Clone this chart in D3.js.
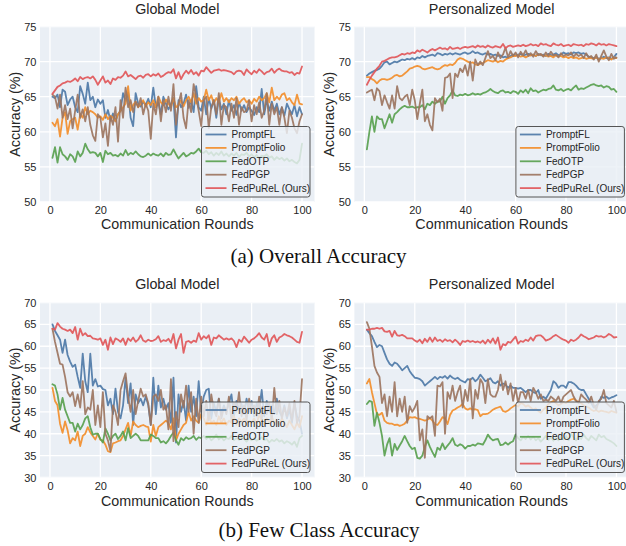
<!DOCTYPE html>
<html>
<head>
<meta charset="utf-8">
<script src="https://cdn.jsdelivr.net/npm/d3@7"></script>
<style>
  html, body { margin: 0; padding: 0; background: #ffffff; }
  svg { display: block; }
</style>
</head>
<body>
<svg id="chart" width="626" height="546"></svg>
<script>
// ---------------- DATA ----------------
const rounds = Array.from({length: 100}, (_, i) => i + 1);
const seriesNames = ["PromptFL", "PromptFolio", "FedOTP", "FedPGP", "FedPuReL (Ours)"];
const seriesColors = ["#4e79a7", "#f28e2b", "#59a14f", "#9c755f", "#e15759"];
const xTicks = [0, 20, 40, 60, 80, 100];
const yTicksOverall = [50, 55, 60, 65, 70, 75];
const yTicksFew = [30, 35, 40, 45, 50, 55, 60, 65, 70];
const panelTitles = ["Global Model", "Personalized Model"];
const captions = ["(a) Overall Accuracy", "(b) Few Class Accuracy"];

// (a) Overall accuracy - Global model
const ovGlobalPromptFL = [65.0,64.8,65.3,63.5,66.0,65.7,63.8,64.6,65.0,63.5, 62.8,66.5,65.4,64.0,67.0,64.5,65.0,63.5,64.6,64.0,
 64.5,62.0,63.1,61.6,62.6,61.5,62.5,63.0,65.5,64.4, 65.6,62.0,60.8,65.5,64.0,63.6,64.3,63.8,64.7,63.5,
 66.3,63.5,64.2,62.5,65.0,64.0,63.2,63.9,64.8,59.2, 64.5,63.5,64.0,65.3,63.4,64.5,62.8,66.5,63.5,63.0,
 65.0,62.5,64.8,63.3,64.5,62.0,64.8,63.2,64.0,62.5, 64.5,63.0,63.8,62.4,64.2,63.0,63.8,62.8,63.5,63.0,
 62.4,63.5,62.8,66.1,62.5,64.5,63.0,64.3,63.0,64.0, 62.5,63.5,62.3,64.0,63.2,62.5,63.8,62.2,63.5,62.5];
const ovGlobalPromptFolio = [61.3,60.8,61.8,59.3,62.0,62.8,59.7,61.5,61.8,62.0, 60.3,62.5,62.0,63.5,62.5,63.0,62.8,62.5,62.0,62.2,
 61.7,62.5,61.8,62.3,62.0,61.5,62.5,63.0,63.5,64.0, 66.5,63.0,63.8,64.3,63.5,64.0,64.5,63.6,64.2,63.8,
 64.5,63.5,65.0,64.2,63.8,64.6,64.0,63.5,64.8,63.5, 63.8,64.5,63.6,64.5,65.0,64.2,65.5,64.0,64.8,64.3,
 64.5,66.0,64.5,65.2,64.0,64.8,64.2,65.5,64.3,64.8, 64.2,64.8,64.5,65.0,64.0,64.5,64.8,64.2,64.5,64.0,
 64.7,64.3,65.0,64.5,64.8,65.5,64.2,66.3,64.5,65.0, 64.6,65.3,65.5,64.5,64.8,64.2,63.8,65.3,64.0,63.9];
const ovGlobalFedOTP = [56.3,57.8,55.6,57.8,56.8,56.5,56.0,56.8,56.5,55.7, 57.2,56.5,57.0,58.3,57.5,57.0,57.1,57.0,56.5,57.0,
 55.7,57.3,56.8,57.0,56.6,56.7,56.5,56.9,56.6,57.4, 56.7,57.0,56.8,57.2,56.8,56.5,56.4,56.6,56.9,56.6,
 56.9,56.7,56.6,56.9,56.5,57.0,56.7,56.8,57.5,56.8, 56.2,56.6,57.0,56.5,56.7,57.0,56.9,57.2,57.6,57.1,
 57.0,57.3,56.8,57.1,56.6,57.0,56.7,57.2,56.6,56.9, 56.5,56.9,56.6,57.0,56.4,56.8,56.7,57.0,56.5,56.8,
 56.4,56.7,56.2,56.6,56.5,56.8,56.3,56.5,56.0,56.4, 56.1,56.3,55.9,56.2,55.8,56.0,55.7,55.5,56.0,58.3];
const ovGlobalFedPGP = [65.3,65.0,63.3,65.3,62.0,63.8,61.8,63.3,60.5,63.0, 65.3,62.0,63.2,61.5,63.5,61.0,59.5,58.7,62.5,62.0,
 59.2,61.2,58.0,62.2,61.0,63.5,58.6,64.5,62.0,66.3, 63.5,64.5,62.8,64.3,63.5,64.8,62.5,64.0,63.0,59.0,
 64.0,62.5,65.0,61.5,64.5,62.8,65.0,63.0,66.8,61.0, 64.0,65.5,62.0,60.5,64.5,62.8,66.8,65.0,63.0,60.8,
 64.5,65.0,60.5,63.5,64.5,62.5,65.5,61.0,63.8,63.5, 61.5,64.0,62.0,64.8,61.0,63.5,62.8,63.0,64.5,61.5,
 63.8,62.5,64.2,62.0,63.0,65.5,61.0,64.0,62.5,63.5, 61.0,63.5,62.0,59.8,63.0,62.0,60.5,59.8,61.5,62.5];
const ovGlobalFedPuReL = [65.4,65.9,66.4,66.6,66.9,67.0,67.2,67.1,67.3,67.6, 67.2,67.8,67.5,67.7,67.8,67.6,67.9,67.4,66.7,67.3,
 67.9,67.0,67.3,66.8,67.6,67.4,67.8,67.7,68.0,68.6, 67.9,68.1,67.8,67.5,67.9,68.0,67.7,68.1,68.2,67.9,
 68.2,68.0,68.3,67.8,68.0,68.3,68.5,68.4,68.9,67.6, 68.5,67.5,68.2,68.7,68.3,68.8,68.2,68.5,68.0,68.7,
 68.6,69.2,68.8,68.4,68.7,68.8,68.9,68.7,68.8,68.7, 68.6,68.5,68.2,68.6,68.7,68.6,68.1,68.9,68.5,68.2,
 68.7,68.4,68.9,68.6,68.2,68.5,68.6,69.0,68.4,68.8, 69.0,68.7,68.6,68.6,68.4,68.5,68.1,68.4,68.3,69.3];

// (a) Overall accuracy - Personalized model
const ovPersPromptFL = [68.0,68.3,68.5,68.7,68.8,69.0,69.4,69.9,70.0,69.6, 69.8,70.0,69.9,70.1,70.3,70.2,70.4,70.3,70.5,70.3,
 70.6,70.5,70.8,70.6,70.8,70.9,71.0,70.8,71.2,71.1, 70.9,71.1,71.0,71.2,71.0,71.2,71.1,71.0,71.2,71.3,
 71.1,71.2,71.5,71.2,71.3,71.1,71.0,71.2,71.0,71.1, 70.9,71.0,70.8,70.9,70.6,70.7,70.5,70.8,71.0,70.9,
 71.0,71.1,70.8,71.0,71.1,70.9,71.0,70.8,71.1,70.9, 71.0,70.8,71.1,70.9,71.0,71.2,70.9,71.0,71.3,71.1,
 71.2,71.0,71.3,71.2,71.3,71.1,71.2,71.0,70.7,70.6, 70.5,70.6,70.4,70.5,70.7,70.5,70.6,70.4,70.6,71.1];
const ovPersPromptFolio = [67.8,67.8,67.5,67.3,66.9,67.3,67.5,67.5,67.4,67.5, 67.7,68.0,68.1,67.9,68.0,68.3,68.6,69.0,69.1,69.3,
 69.4,69.3,69.0,68.9,69.0,69.1,69.2,69.0,68.9,69.0, 69.3,69.5,69.4,69.6,69.5,69.8,70.3,70.5,70.4,70.2,
 70.0,69.8,69.9,69.6,69.5,69.7,69.8,70.0,70.2,70.1, 70.0,70.2,69.9,70.1,70.0,70.3,70.5,70.6,70.8,70.8,
 70.9,70.7,70.8,70.6,70.8,70.9,71.0,70.8,71.0,71.0, 70.8,70.9,70.7,70.8,70.6,70.9,70.7,70.8,70.6,70.7,
 70.5,70.7,70.5,70.6,70.4,70.5,70.6,70.4,70.5,70.5, 70.4,70.6,70.3,70.5,70.4,70.6,70.5,70.3,70.6,70.5];
const ovPersFedOTP = [57.5,60.0,62.2,60.0,62.2,61.8,61.8,60.5,61.5,62.5, 61.3,62.5,62.8,63.2,63.5,63.7,63.5,63.5,63.6,63.4,
 63.5,63.5,63.8,63.2,64.0,63.8,64.3,64.0,64.3,64.3, 65.0,64.0,64.8,65.2,65.9,65.2,65.1,65.3,65.2,65.4,
 65.2,65.3,65.5,65.3,65.4,65.3,65.5,65.6,65.8,66.1, 65.8,65.6,65.5,65.8,65.9,65.6,65.7,65.5,65.8,65.7,
 65.4,65.9,65.6,66.0,65.5,66.2,65.8,65.9,65.6,65.8, 66.0,65.9,66.1,66.2,66.6,66.0,65.9,66.1,65.8,66.0,
 66.1,65.9,66.3,66.6,66.0,66.2,66.1,66.3,66.5,66.7, 66.8,66.6,66.5,66.6,66.3,66.5,66.4,66.0,66.1,65.7];
const ovPersFedPGP = [65.6,65.8,66.0,64.5,66.2,65.8,63.8,65.2,64.2,63.3, 65.2,63.3,66.5,64.8,64.5,65.0,65.3,63.8,66.0,64.5,
 61.8,64.0,66.0,61.5,62.5,61.0,60.2,64.8,64.2,64.7, 63.0,67.7,67.8,68.3,64.8,68.3,67.8,69.0,68.5,69.5,
 68.0,70.0,67.3,70.3,69.5,70.0,69.5,70.5,71.5,70.5, 70.8,70.2,71.3,70.5,71.0,72.0,70.6,71.5,70.8,71.3,
 70.6,71.4,70.9,71.6,70.8,71.2,70.7,71.5,70.9,71.1, 70.7,71.3,70.8,71.4,70.9,71.0,70.6,71.2,70.8,71.0,
 70.9,71.3,70.7,71.1,70.8,71.0,70.5,71.2,70.6,70.8, 70.3,71.0,70.0,70.8,71.6,70.7,70.2,71.1,70.4,70.6];
const ovPersFedPuReL = [66.7,67.4,68.0,68.5,69.0,69.4,70.0,70.1,70.3,70.5, 70.6,70.6,70.7,70.9,71.1,71.0,71.2,71.1,71.3,71.2,
 71.6,71.4,71.7,71.5,71.3,71.6,71.8,71.6,71.8,72.0, 71.8,71.9,71.7,72.1,71.8,71.9,72.0,71.8,72.0,72.1,
 72.0,72.1,72.2,72.0,72.3,72.1,72.2,72.0,72.3,72.1, 72.0,72.2,72.1,72.0,72.5,71.9,72.2,72.3,72.1,72.2,
 72.3,72.2,72.4,72.2,72.3,72.5,72.3,72.4,72.2,72.6, 72.4,72.5,72.3,72.2,72.6,72.4,72.3,72.5,72.2,72.3,
 72.4,72.2,72.5,72.4,72.3,72.4,72.2,72.5,72.4,72.6, 72.5,72.3,72.6,72.4,72.5,72.3,72.5,72.4,72.3,72.2];

// (b) Few class accuracy - Global model
const fewGlobalPromptFL = [65.0,63.5,62.5,61.5,58.5,61.5,58.0,56.5,55.3,55.8, 53.0,50.5,58.3,52.0,49.5,58.3,51.0,52.5,50.8,51.0,
 50.2,50.0,46.5,48.0,44.5,50.3,45.0,43.5,46.5,52.8, 47.0,51.5,42.0,49.0,47.0,48.0,46.5,48.5,46.5,42.0,
 52.8,44.5,51.0,46.0,48.0,45.5,47.0,42.5,52.8,38.0, 49.0,45.0,47.5,43.0,51.0,45.0,48.5,44.0,52.0,45.0,
 48.5,50.0,50.3,43.5,47.0,45.0,48.0,44.5,46.5,45.0, 47.0,49.0,44.0,47.5,45.5,46.8,44.5,48.0,45.0,47.5,
 44.0,47.0,45.5,50.0,44.0,47.5,45.0,46.5,44.5,48.0, 45.0,44.0,46.5,43.5,45.5,42.5,47.0,44.0,43.0,40.0];
const fewGlobalPromptFolio = [50.5,47.5,46.5,42.3,40.2,42.8,40.8,37.8,39.0,38.5, 40.5,37.2,39.5,40.0,41.5,40.3,39.5,38.7,40.0,38.6,
 38.5,37.5,36.0,35.8,37.8,38.0,38.3,38.5,39.5,41.0, 42.5,39.5,42.8,42.0,41.5,41.8,42.0,41.7,41.5,38.2,
 42.0,39.5,41.5,42.0,42.5,43.0,42.5,41.0,43.5,38.5, 40.0,41.0,42.0,42.5,45.0,43.0,44.0,43.0,42.5,44.5,
 43.5,42.0,44.5,42.5,43.0,42.0,44.0,42.5,43.5,42.0, 43.0,42.5,44.0,42.0,43.5,42.8,43.5,42.0,43.0,42.5,
 43.5,42.0,44.5,43.0,42.0,43.5,42.5,44.0,42.5,43.0, 42.0,43.5,42.5,41.5,43.0,42.0,41.0,42.5,41.5,44.0];
const fewGlobalFedOTP = [51.3,51.0,49.0,45.5,48.2,45.5,44.0,42.5,42.5,40.5, 42.3,41.0,42.0,43.5,44.0,41.5,39.8,40.0,40.0,38.8,
 38.0,41.2,40.0,38.5,39.5,40.0,38.8,39.5,40.5,38.5, 41.3,39.0,39.5,40.0,39.5,38.5,38.5,38.5,38.5,39.8,
 39.5,39.0,39.0,38.0,38.3,37.8,38.5,39.5,40.3,38.5, 37.5,39.0,38.5,39.2,38.8,39.0,39.5,38.6,39.2,39.0,
 39.5,38.8,39.3,38.5,39.0,39.8,38.7,39.2,38.5,39.0, 38.8,39.5,38.5,39.0,38.6,39.3,38.8,38.2,39.0,38.5,
 39.0,38.4,38.8,39.2,38.5,38.8,38.0,38.6,38.3,38.8, 38.2,38.5,37.8,38.3,38.0,37.5,38.2,37.0,39.0,39.5];
const fewGlobalFedPGP = [64.0,61.0,58.5,56.0,55.8,53.0,49.5,48.5,49.5,46.3, 49.0,46.0,52.0,44.5,46.0,45.5,50.0,42.0,46.5,41.5,
 49.5,40.0,38.5,36.0,46.5,45.0,42.0,50.0,52.0,53.8, 48.5,45.0,50.0,44.5,47.5,50.3,48.5,49.0,47.0,42.0,
 48.5,49.0,47.5,50.0,45.5,46.5,41.0,52.5,38.3,45.0, 41.5,49.0,46.0,51.0,45.0,49.5,40.0,48.0,42.5,48.5,
 44.0,47.5,43.0,49.0,45.5,44.0,48.0,43.5,46.0,44.5, 48.5,43.0,47.0,45.0,49.5,44.0,46.5,43.0,48.0,45.0,
 46.5,44.0,48.5,43.5,46.0,44.5,47.0,43.0,50.5,44.5, 47.5,43.5,46.0,44.0,47.0,43.0,47.5,42.5,44.0,52.5];
const fewGlobalFedPuReL = [64.0,63.8,65.3,64.5,64.0,63.8,63.5,63.8,63.0,64.4, 61.5,64.0,62.5,63.0,62.3,62.4,61.8,61.7,61.5,61.8,
 60.3,61.5,59.2,62.0,60.5,61.8,61.5,61.0,61.8,60.3, 61.8,61.2,62.0,61.0,61.5,62.5,61.3,61.0,61.5,61.2,
 61.3,61.6,62.3,61.0,61.4,61.2,61.7,60.8,62.8,59.5, 61.5,62.8,58.5,61.0,61.2,60.8,61.3,61.0,63.0,61.5,
 62.3,61.8,62.5,60.3,62.0,61.8,62.5,62.0,61.5,61.8, 61.5,61.8,61.2,59.8,61.5,61.0,62.2,61.5,60.8,61.5,
 61.8,62.3,63.0,62.0,61.5,62.8,60.0,61.8,62.5,61.0, 62.0,62.3,62.8,62.5,62.3,62.0,61.5,61.0,60.8,63.3];

// (b) Few class accuracy - Personalized model
const fewPersPromptFL = [63.8,63.0,62.3,61.0,59.8,60.3,60.0,58.5,57.0,56.0, 55.5,56.3,56.0,55.3,54.5,55.0,55.5,54.3,53.5,52.8,
 52.7,52.5,52.0,51.0,51.5,52.0,52.5,53.0,52.5,53.0, 52.8,53.2,52.6,53.3,52.8,52.5,52.8,52.3,52.0,51.7,
 52.5,52.3,52.8,52.0,52.5,53.5,52.8,52.0,52.3,52.7, 51.8,51.5,52.0,51.0,51.5,51.2,50.5,51.0,50.5,50.5,
 50.3,50.5,50.0,49.5,50.0,50.0,49.5,49.3,50.0,48.0, 48.5,48.0,49.0,50.0,52.0,51.5,50.5,51.0,51.0,50.5,
 51.8,51.8,51.5,51.0,50.3,50.0,50.0,49.0,48.0,47.0, 46.0,46.5,47.0,48.5,48.2,48.5,48.0,48.3,48.5,48.8];
const fewPersPromptFolio = [51.5,52.5,49.5,47.0,44.5,44.3,44.8,43.0,42.5,42.3, 42.3,42.0,42.1,41.8,42.0,42.3,43.0,43.8,43.7,43.8,
 43.5,43.4,43.2,43.0,43.2,43.6,43.0,42.2,42.0,42.8, 43.8,43.5,42.2,44.3,45.3,45.6,46.0,46.3,46.8,45.8,
 45.5,45.8,45.5,45.6,45.4,44.0,44.5,44.5,44.6,45.0, 45.5,45.8,46.0,46.2,45.2,45.0,45.3,45.8,46.2,46.6,
 46.2,47.0,46.8,46.2,46.5,46.0,45.5,45.8,45.2,44.8, 45.5,46.0,46.8,47.2,47.5,47.0,46.5,46.8,47.2,47.0,
 47.5,47.8,48.0,47.6,47.2,47.0,46.5,46.2,46.0,45.5, 45.2,45.4,45.0,45.3,45.1,45.0,44.8,45.2,45.0,44.8];
const fewPersFedOTP = [46.8,47.5,47.3,41.8,44.8,42.5,39.5,35.0,37.5,39.0, 35.0,37.7,36.3,37.3,38.3,39.5,38.3,37.2,36.5,36.8,
 34.5,34.3,35.0,37.0,38.5,37.0,35.8,34.7,36.8,36.3, 37.8,36.5,37.3,38.0,39.0,37.5,37.2,37.6,37.3,36.6,
 37.2,37.2,37.5,37.3,37.8,37.7,37.5,38.5,39.8,39.0, 38.5,38.7,38.8,37.4,37.5,38.0,37.5,38.0,38.3,39.8,
 39.0,38.5,39.2,38.8,39.5,38.7,39.3,38.5,39.0,38.2, 38.8,39.5,38.6,39.2,38.4,39.0,38.5,39.3,38.7,39.5,
 38.5,40.0,39.2,38.5,39.5,38.8,39.8,39.0,38.5,39.5, 39.0,38.5,39.8,39.2,39.5,38.8,38.5,38.2,37.8,37.2];
const fewPersFedPGP = [65.5,64.0,60.0,55.5,54.0,53.0,47.0,49.0,44.0,48.5, 45.0,51.8,44.0,48.0,45.0,48.5,42.5,46.3,45.0,46.0,
 47.5,38.5,41.0,34.5,44.0,43.5,44.0,39.5,51.0,50.8, 51.8,40.0,49.5,48.0,51.0,47.5,49.5,51.0,46.0,50.0,
 47.5,52.5,43.5,50.0,48.0,52.5,51.5,47.0,52.5,49.0, 48.5,48.5,50.0,53.5,50.0,52.0,49.0,51.5,47.5,50.5,
 47.0,49.5,49.5,48.0,50.0,47.5,50.5,49.5,48.0,49.0, 47.5,47.8,47.5,48.5,48.0,47.5,48.5,47.0,48.5,49.0,
 49.5,50.0,48.5,47.5,47.0,49.0,48.3,47.8,47.0,48.5, 46.5,45.5,47.5,48.0,50.0,47.0,46.5,46.0,47.5,45.0];
const fewPersFedPuReL = [63.8,63.8,64.0,64.0,64.2,64.0,64.2,63.4,63.3,63.5, 62.2,63.5,62.5,62.4,62.6,62.3,61.8,61.8,61.8,61.3,
 61.0,61.5,60.7,61.7,61.0,62.0,61.0,62.0,61.2,61.5, 61.0,61.6,61.2,61.4,60.9,61.5,61.0,60.3,61.2,61.0,
 61.3,61.0,61.2,60.9,61.1,60.8,61.3,60.6,61.5,60.8, 61.8,60.6,62.0,59.2,60.5,60.2,61.0,60.8,61.5,62.2,
 60.6,61.2,61.0,61.5,61.2,62.0,61.3,62.3,62.5,62.5, 62.0,61.3,61.5,61.8,62.3,62.6,62.2,61.8,61.5,61.3,
 60.8,61.5,61.2,61.5,62.0,62.7,62.3,62.0,61.6,61.8, 62.0,62.4,62.2,62.3,62.0,62.3,62.8,62.5,62.0,62.1];

// ---------------- LAYOUT ----------------
const FONT = "'Liberation Sans', Arial, 'DejaVu Sans', sans-serif";
const TEXT = "#262626";
const BG = "#eaeff5";

const panels = [
  { title: panelTitles[0], x0: 40, x1: 314.5, y0: 26.5, y1: 202, yDomain: [50, 75], yTicks: yTicksOverall,
    series: [ovGlobalPromptFL, ovGlobalPromptFolio, ovGlobalFedOTP, ovGlobalFedPGP, ovGlobalFedPuReL],
    titleY: 8.5, xTickY: 209.8, xLabelY: 224.2, yLabelX: 15 },
  { title: panelTitles[1], x0: 354.4, x1: 628.9, y0: 26.5, y1: 202, yDomain: [50, 75], yTicks: yTicksOverall,
    series: [ovPersPromptFL, ovPersPromptFolio, ovPersFedOTP, ovPersFedPGP, ovPersFedPuReL],
    titleY: 8.5, xTickY: 209.8, xLabelY: 224.2, yLabelX: 329 },
  { title: panelTitles[0], x0: 40, x1: 314.5, y0: 302.5, y1: 477.5, yDomain: [30, 70], yTicks: yTicksFew,
    series: [fewGlobalPromptFL, fewGlobalPromptFolio, fewGlobalFedOTP, fewGlobalFedPGP, fewGlobalFedPuReL],
    titleY: 283.8, xTickY: 486.6, xLabelY: 500.8, yLabelX: 15 },
  { title: panelTitles[1], x0: 354.4, x1: 628.9, y0: 302.5, y1: 477.5, yDomain: [30, 70], yTicks: yTicksFew,
    series: [fewPersPromptFL, fewPersPromptFolio, fewPersFedOTP, fewPersFedPGP, fewPersFedPuReL],
    titleY: 283.8, xTickY: 486.6, xLabelY: 500.8, yLabelX: 329 }
];

const svg = d3.select("#chart");
svg.append("rect").attr("width", 626).attr("height", 546).attr("fill", "#ffffff");

panels.forEach((p, pi) => {
  const x = d3.scaleLinear().domain([-3.95, 104.95]).range([p.x0, p.x1]);
  const y = d3.scaleLinear().domain(p.yDomain).range([p.y1, p.y0]);
  const g = svg.append("g");

  const clipId = "clip" + pi;
  svg.append("clipPath").attr("id", clipId)
    .append("rect").attr("x", p.x0).attr("y", p.y0).attr("width", p.x1 - p.x0).attr("height", p.y1 - p.y0);

  g.append("rect").attr("x", p.x0).attr("y", p.y0)
    .attr("width", p.x1 - p.x0).attr("height", p.y1 - p.y0).attr("fill", BG);

  // grid
  const grid = g.append("g").attr("clip-path", `url(#${clipId})`);
  grid.selectAll(".gx").data(xTicks).enter().append("line")
    .attr("x1", d => x(d)).attr("x2", d => x(d)).attr("y1", p.y0).attr("y2", p.y1)
    .attr("stroke", "#ffffff").attr("stroke-width", 1.3);
  grid.selectAll(".gy").data(p.yTicks).enter().append("line")
    .attr("x1", p.x0).attr("x2", p.x1).attr("y1", d => y(d)).attr("y2", d => y(d))
    .attr("stroke", "#ffffff").attr("stroke-width", 1.3);

  // axes (labels only, seaborn darkgrid style)
  const xAxis = d3.axisBottom(x).tickValues(xTicks).tickSize(0).tickPadding(0);
  const xa = g.append("g").attr("transform", `translate(0,${p.y1})`).call(xAxis);
  xa.select(".domain").remove();
  xa.selectAll("text").attr("y", p.xTickY - p.y1).attr("dy", "0.35em")
    .attr("font-family", FONT).attr("font-size", 11).attr("fill", TEXT);

  const yAxis = d3.axisLeft(y).tickValues(p.yTicks).tickSize(0).tickPadding(3.5);
  const ya = g.append("g").attr("transform", `translate(${p.x0},0)`).call(yAxis);
  ya.select(".domain").remove();
  ya.selectAll("text").attr("font-family", FONT).attr("font-size", 11).attr("fill", TEXT);

  // lines
  const line = d3.line().x((d, i) => x(rounds[i])).y(d => y(d));
  const lines = g.append("g").attr("clip-path", `url(#${clipId})`);
  p.series.forEach((s, si) => {
    lines.append("path").datum(s).attr("d", line)
      .attr("fill", "none").attr("stroke", seriesColors[si])
      .attr("stroke-width", 1.8).attr("stroke-opacity", 0.92)
      .attr("stroke-linejoin", "round").attr("stroke-linecap", "round");
  });

  // titles
  const cx = (p.x0 + p.x1) / 2;
  g.append("text").attr("x", cx).attr("y", p.titleY).attr("dy", "0.35em")
    .attr("text-anchor", "middle").attr("font-family", FONT).attr("font-size", 14.3)
    .attr("fill", TEXT).text(p.title);
  g.append("text").attr("x", cx).attr("y", p.xLabelY).attr("dy", "0.35em")
    .attr("text-anchor", "middle").attr("font-family", FONT).attr("font-size", 14.3)
    .attr("fill", TEXT).text("Communication Rounds");
  const cy = (p.y0 + p.y1) / 2;
  g.append("text").attr("transform", `translate(${p.yLabelX},${cy}) rotate(-90)`)
    .attr("dy", "0.35em").attr("text-anchor", "middle").attr("font-family", FONT)
    .attr("font-size", 14.3).attr("fill", TEXT).text("Accuracy (%)");

  // legend
  const lw = 108.5, lh = 70.5;
  const lx = p.x1 - 4.5 - lw;
  const ly = p.y1 - 5 - lh;
  const lg = g.append("g");
  lg.append("rect").attr("x", lx).attr("y", ly).attr("width", lw).attr("height", lh)
    .attr("rx", 2.5).attr("fill", BG).attr("fill-opacity", 0.82)
    .attr("stroke", "#555555").attr("stroke-width", 1);
  seriesNames.forEach((name, si) => {
    const ry = ly + 8 + si * 13.4;
    lg.append("line").attr("x1", lx + 4).attr("x2", lx + 25).attr("y1", ry).attr("y2", ry)
      .attr("stroke", seriesColors[si]).attr("stroke-width", 1.8).attr("stroke-opacity", 0.92);
    lg.append("text").attr("x", lx + 30).attr("y", ry).attr("dy", "0.35em")
      .attr("font-family", FONT).attr("font-size", 10).attr("fill", TEXT).text(name);
  });
});

// captions
svg.append("text").attr("x", 318.5).attr("y", 256).attr("dy", "0.35em")
  .attr("text-anchor", "middle").attr("font-family", "'Liberation Serif', 'Times New Roman', serif")
  .attr("font-size", 21).attr("fill", "#111111").text(captions[0]);
svg.append("text").attr("x", 319).attr("y", 530).attr("dy", "0.35em")
  .attr("text-anchor", "middle").attr("font-family", "'Liberation Serif', 'Times New Roman', serif")
  .attr("font-size", 21).attr("fill", "#111111").text(captions[1]);
</script>
</body>
</html>
